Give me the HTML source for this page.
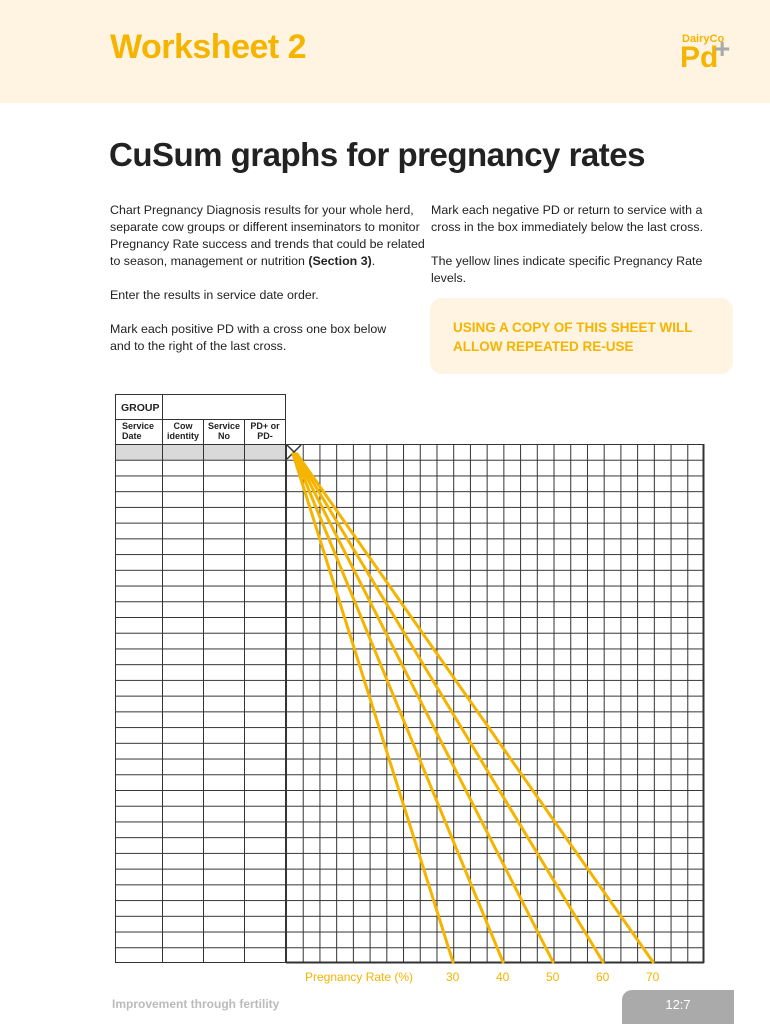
<!DOCTYPE html>
<html><head><meta charset="utf-8"><style>
body{margin:0;width:770px;height:1024px;background:#fff;position:relative;overflow:hidden;font-family:"Liberation Sans",sans-serif;}
.hdr{position:absolute;left:0;top:0;width:770px;height:103px;background:#fef4e1;}
.t1{position:absolute;left:110px;top:28px;font-size:34px;font-weight:bold;color:#f5b400;letter-spacing:-0.5px;}
.logo1{position:absolute;left:682px;top:33px;font-size:11px;font-weight:bold;color:#f5b400;}
.logo2{position:absolute;left:680px;top:43px;font-size:30px;font-weight:bold;color:#f5b400;line-height:30px;}
.logo3{position:absolute;left:714px;top:33px;font-size:28px;font-weight:bold;color:#aaa;}
.t2{position:absolute;left:109px;top:136px;font-size:33px;font-weight:bold;color:#222;letter-spacing:-0.5px;}
.p{position:absolute;font-size:12.4px;line-height:17px;color:#222;}
.call{position:absolute;left:430px;top:298px;width:303px;height:76px;background:#fef4e1;border-radius:12px;}
.call div{position:absolute;left:23px;top:20px;font-size:13.5px;line-height:19px;font-weight:bold;color:#f5b400;}
.lab{position:absolute;top:970px;font-size:12px;color:#f5b400;}
.foot{position:absolute;left:112px;top:997px;font-size:12px;font-weight:bold;color:#bbb;}
.tab{position:absolute;left:622px;top:990px;width:112px;height:34px;background:#aaa;border-top-left-radius:10px;color:#fff;font-size:13px;text-align:center;line-height:30px;}
</style></head><body>
<div class="hdr"></div>
<div class="t1">Worksheet 2</div>
<div class="logo1">DairyCo</div>
<div class="logo2">Pd</div>
<div class="logo3">+</div>
<div class="t2">CuSum graphs for pregnancy rates</div>
<div class="p" style="left:110px;top:202px;">Chart Pregnancy Diagnosis results for your whole herd,<br>separate cow groups or different inseminators to monitor<br>Pregnancy Rate success and trends that could be related<br>to season, management or nutrition <b>(Section 3)</b>.</div>
<div class="p" style="left:110px;top:287px;">Enter the results in service date order.</div>
<div class="p" style="left:110px;top:321px;">Mark each positive PD with a cross one box below<br>and to the right of the last cross.</div>
<div class="p" style="left:431px;top:202px;">Mark each negative PD or return to service with a<br>cross in the box immediately below the last cross.</div>
<div class="p" style="left:431px;top:253px;">The yellow lines indicate specific Pregnancy Rate<br>levels.</div>
<div class="call"><div>USING A COPY OF THIS SHEET WILL<br>ALLOW REPEATED RE-USE</div></div>
<svg style="position:absolute;left:0;top:0" width="770" height="1024">
<defs>
<pattern id="h" x="0" y="444" width="770" height="15.727" patternUnits="userSpaceOnUse"><line x1="0" y1="0.5" x2="770" y2="0.5" stroke="#333" stroke-width="1"/></pattern>
<pattern id="v" x="286" y="0" width="16.72" height="1024" patternUnits="userSpaceOnUse"><line x1="0.5" y1="0" x2="0.5" y2="1024" stroke="#333" stroke-width="1"/></pattern>
</defs>
<rect x="115" y="444" width="171" height="16" fill="#d9d9d9"/>
<rect x="115" y="444" width="589" height="519" fill="url(#h)"/>
<rect x="286" y="444" width="418" height="519" fill="url(#v)"/>
<g stroke="#333" stroke-width="1" fill="none">
<rect x="115.5" y="394.5" width="170" height="568"/>
<line x1="115" y1="419.5" x2="286" y2="419.5"/>
<line x1="162.5" y1="394" x2="162.5" y2="419"/>
<line x1="162.5" y1="419" x2="162.5" y2="963"/>
<line x1="203.5" y1="419" x2="203.5" y2="963"/>
<line x1="244.5" y1="419" x2="244.5" y2="963"/>
<line x1="286" y1="962.5" x2="704" y2="962.5" stroke-width="2"/>
<line x1="703.5" y1="444" x2="703.5" y2="963" stroke-width="2"/>
<line x1="286" y1="444.5" x2="704" y2="444.5"/>
<line x1="287" y1="445" x2="301" y2="459" stroke-width="1.5"/>
<line x1="301" y1="445" x2="287" y2="459" stroke-width="1.5"/>
</g>
<g stroke="#f5b400" stroke-width="3" stroke-linecap="round">
<line x1="293" y1="454" x2="453" y2="962"/>
<line x1="294" y1="454" x2="503" y2="962"/>
<line x1="295" y1="454" x2="553" y2="962"/>
<line x1="296" y1="454" x2="603" y2="962"/>
<line x1="297" y1="454" x2="653" y2="962"/>
</g>
</svg>
<div class="p" style="left:121px;top:400px;font-size:10.5px;font-weight:bold;">GROUP</div>
<div class="p" style="left:122px;top:421px;font-size:9px;line-height:10px;font-weight:bold;">Service<br>Date</div>
<div class="p" style="left:166px;top:421px;width:34px;text-align:center;font-size:9px;line-height:10px;font-weight:bold;">Cow<br>identity</div>
<div class="p" style="left:205px;top:421px;width:38px;text-align:center;font-size:9px;line-height:10px;font-weight:bold;">Service<br>No</div>
<div class="p" style="left:246px;top:421px;width:38px;text-align:center;font-size:9px;line-height:10px;font-weight:bold;">PD+ or<br>PD-</div>
<div class="lab" style="left:305px;">Pregnancy Rate (%)</div>
<div class="lab" style="left:446px;">30</div>
<div class="lab" style="left:496px;">40</div>
<div class="lab" style="left:546px;">50</div>
<div class="lab" style="left:596px;">60</div>
<div class="lab" style="left:646px;">70</div>
<div class="foot">Improvement through fertility</div>
<div class="tab">12:7</div>
</body></html>
